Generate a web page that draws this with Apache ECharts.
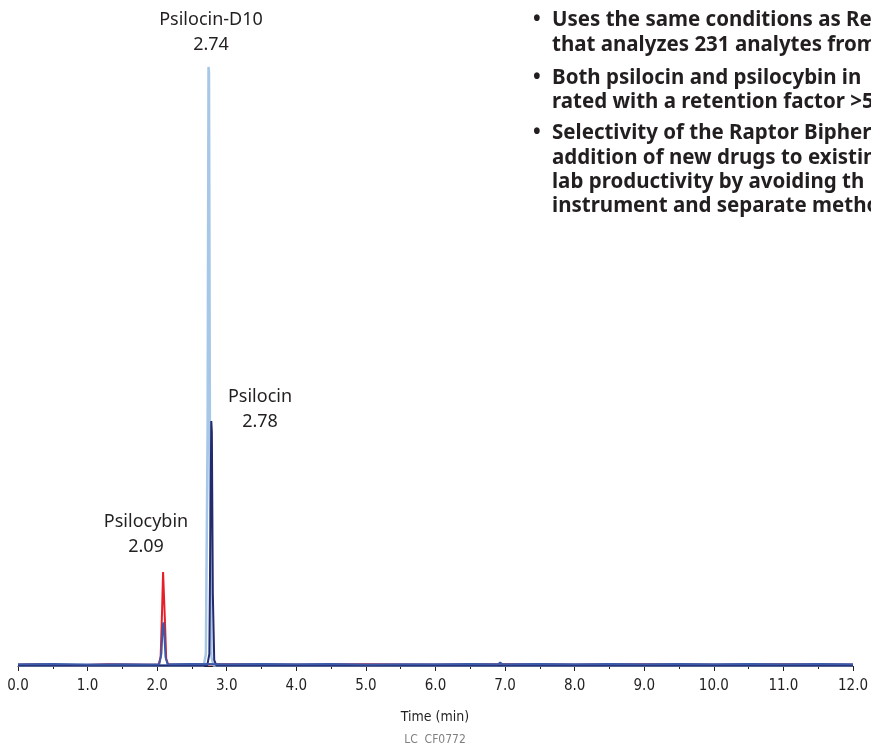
<!DOCTYPE html>
<html>
<head>
<meta charset="utf-8">
<script src="https://cdn.jsdelivr.net/npm/echarts@6/dist/echarts.min.js"></script>
<style>
  html, body { margin: 0; padding: 0; background: #fff; }
  #chart { width: 871px; height: 748px; }
</style>
</head>
<body>
<div id="chart"></div>
<script>
// x axis ticks (min)
var timeTicks = [0, 1, 2, 3, 4, 5, 6, 7, 8, 9, 10, 11, 12]

// traces: [time (min), response (% of D10 peak)]
var psilocybinTrace = [
  [0, 0.2], [0.3, 0.3], [0.8, 0.1], [1.3, 0.3], [1.8, 0.2], [2.02, 0.2],
  [2.05, 1.5], [2.07, 9], [2.085, 15.7], [2.095, 15.5], [2.11, 8], [2.13, 1.2], [2.16, 0.2],
  [3.0, 0.3], [4.0, 0.2], [5.0, 0.3], [6.0, 0.2], [7.0, 0.3], [8.0, 0.2],
  [9.0, 0.3], [10.0, 0.2], [11.0, 0.3], [12.0, 0.2]
]
var d10Trace = [
  [0, 0.1], [2.0, 0.1], [2.67, 0.1], [2.7, 2], [2.725, 40], [2.738, 100],
  [2.745, 99], [2.76, 30], [2.78, 1.5], [2.81, 0.1], [12.0, 0.1]
]
var psilocinTrace = [
  [0, 0.1], [2.0, 0.1], [2.72, 0.1], [2.75, 2], [2.77, 30], [2.778, 40.9],
  [2.786, 39], [2.80, 12], [2.82, 1], [2.85, 0.1], [12.0, 0.1]
]
var baselineTrace = [
  [0, 0.3], [0.5, 0.35], [1.0, 0.25], [1.5, 0.3], [1.9, 0.25], [2.03, 0.3],
  [2.06, 2], [2.08, 6.5], [2.09, 7.3], [2.10, 6], [2.12, 1.5], [2.15, 0.3],
  [2.5, 0.35], [3.0, 0.3], [3.5, 0.35], [4.0, 0.3], [4.5, 0.35], [5.0, 0.25],
  [5.5, 0.3], [6.0, 0.3], [6.5, 0.35], [6.9, 0.3], [6.93, 0.6], [6.96, 0.3],
  [7.5, 0.35], [8.0, 0.3], [8.5, 0.35], [9.0, 0.3], [9.5, 0.35], [10.0, 0.3],
  [10.5, 0.35], [11.0, 0.3], [11.5, 0.35], [12.0, 0.3]
]

var peakLabels = [
  { name: 'Psilocin-D10', rt: '2.74', x: 211, y: 20 },
  { name: 'Psilocin', rt: '2.78', x: 260, y: 397 },
  { name: 'Psilocybin', rt: '2.09', x: 146, y: 522 }
]

// bullet, text, baseline y
var bulletLines = [
  ['•', 'Uses the same conditions as Re', 26],
  ['', 'that analyzes 231 analytes from', 51],
  ['•', 'Both psilocin and psilocybin in', 84],
  ['', 'rated with a retention factor >5', 108],
  ['•', 'Selectivity of the Raptor Bipher', 139],
  ['', 'addition of new drugs to existin', 164],
  ['', 'lab productivity by avoiding th', 188],
  ['', 'instrument and separate metho', 212]
]

var chart = echarts.init(document.getElementById('chart'))

var graphics = []
peakLabels.forEach(function (p) {
  graphics.push({ type: 'text', x: p.x, y: p.y, style: { text: p.name, fill: '#231f20', font: '18px "Noto Sans"', textAlign: 'center', textVerticalAlign: 'middle' } })
  graphics.push({ type: 'text', x: p.x, y: p.y + 25, style: { text: p.rt, fill: '#231f20', font: '18px "Noto Sans"', textAlign: 'center', textVerticalAlign: 'middle' } })
})
bulletLines.forEach(function (l) {
  if (l[0]) {
    graphics.push({ type: 'text', x: 533, y: l[2] + 5, style: { text: l[0], fill: '#231f20', font: 'bold 20.5px "Noto Sans"', textVerticalAlign: 'bottom' } })
  }
  graphics.push({ type: 'text', x: 552, y: l[2] + 5, style: { text: l[1], fill: '#231f20', font: 'bold 20.5px "Noto Sans"', textVerticalAlign: 'bottom' } })
})
graphics.push({ type: 'text', x: 435, y: 717, style: { text: 'Time (min)', fill: '#231f20', font: '14px "DejaVu Sans Condensed"', textAlign: 'center', textVerticalAlign: 'middle' } })
graphics.push({ type: 'text', x: 435, y: 740, style: { text: 'LC  CF0772', fill: '#808080', font: '12px "DejaVu Sans Condensed"', textAlign: 'center', textVerticalAlign: 'middle' } })

function traceSeries(name, data, color, width) {
  return {
    name: name, type: 'line', data: data, showSymbol: false, symbol: 'none',
    lineStyle: { color: color, width: width }, animation: false
  }
}

var option = {
  backgroundColor: '#fff',
  animation: false,
  grid: { left: 18, right: 12, top: 40, bottom: 82 },
  xAxis: {
    type: 'value', min: 0, max: 12, interval: 1,
    axisLine: { lineStyle: { color: '#231f20', width: 1 } },
    axisTick: { inside: false, length: 5, lineStyle: { color: '#231f20' } },
    minorTick: { show: true, splitNumber: 2, length: 3, lineStyle: { color: '#231f20' } },
    splitLine: { show: false },
    axisLabel: {
      color: '#231f20', fontSize: 15, margin: 13,
      fontFamily: '"DejaVu Sans Condensed"',
      formatter: function (v) { return timeTicks.indexOf(v) >= 0 ? v.toFixed(1) : '' }
    }
  },
  yAxis: {
    type: 'value', min: 0, max: 104.5, show: false,
    splitLine: { show: false }
  },
  series: [
    traceSeries('Psilocybin', psilocybinTrace, '#e5202a', 2),
    traceSeries('Psilocin-D10', d10Trace, '#a7c7e7', 2.5),
    traceSeries('Psilocin', psilocinTrace, '#232a6e', 2),
    traceSeries('Baseline', baselineTrace, '#3b5aa9', 2)
  ],
  graphic: graphics
}
chart.setOption(option)
</script>
</body>
</html>
